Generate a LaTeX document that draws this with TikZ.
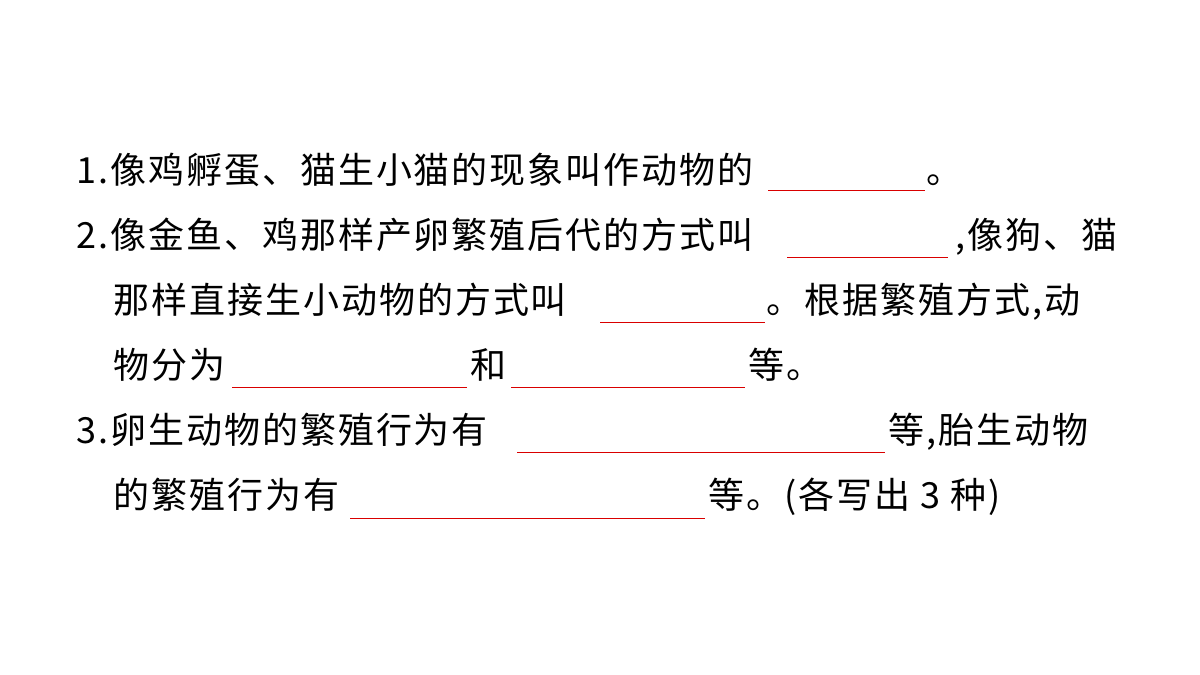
\documentclass[tikz,border=0pt]{standalone}
\usepackage{fontspec}
\newfontfamily\cjk[LetterSpace=5.5]{Noto Sans CJK SC}
\tikzset{
  txt/.style={inner sep=0pt, anchor=base west, font=\cjk\fontsize{36}{40}\selectfont},
  blank/.style={draw=red!85!black, line width=1pt}
}
\begin{document}
\begin{tikzpicture}[x=1pt,y=1pt]
\useasboundingbox[fill=white] (0,0) rectangle (1200,-675);
% line 1
\node[txt] (a1) at (76,-183) {1.像鸡孵蛋、猫生小猫的现象叫作动物的};
\draw[blank] (768,-190) -- (925,-190);
\node[txt] (a2) at (926,-183) {。};
% line 2
\node[txt] (b1) at (76,-248) {2.像金鱼、鸡那样产卵繁殖后代的方式叫};
\draw[blank] (787,-257) -- (948,-257);
\node[txt] (b2) at (955,-248) {,像狗、猫};
% line 3
\node[txt] (c1) at (113,-313) {那样直接生小动物的方式叫};
\draw[blank] (600,-322) -- (765,-322);
\node[txt] (c2) at (766,-313) {。根据繁殖方式,动};
% line 4
\node[txt] (d1) at (113,-378) {物分为};
\draw[blank] (232,-387) -- (467,-387);
\node[txt] (d2) at (470,-378) {和};
\draw[blank] (511,-387) -- (745,-387);
\node[txt] (d3) at (748,-378) {等。};
% line 5
\node[txt] (e1) at (76,-443) {3.卵生动物的繁殖行为有};
\draw[blank] (517,-452) -- (885,-452);
\node[txt] (e2) at (888,-443) {等,胎生动物};
% line 6
\node[txt] (f1) at (113,-508) {的繁殖行为有};
\draw[blank] (350,-518) -- (705,-518);
\node[txt] (f2) at (708,-508) {等。(各写出 3 种)};
\end{tikzpicture}
\end{document}
